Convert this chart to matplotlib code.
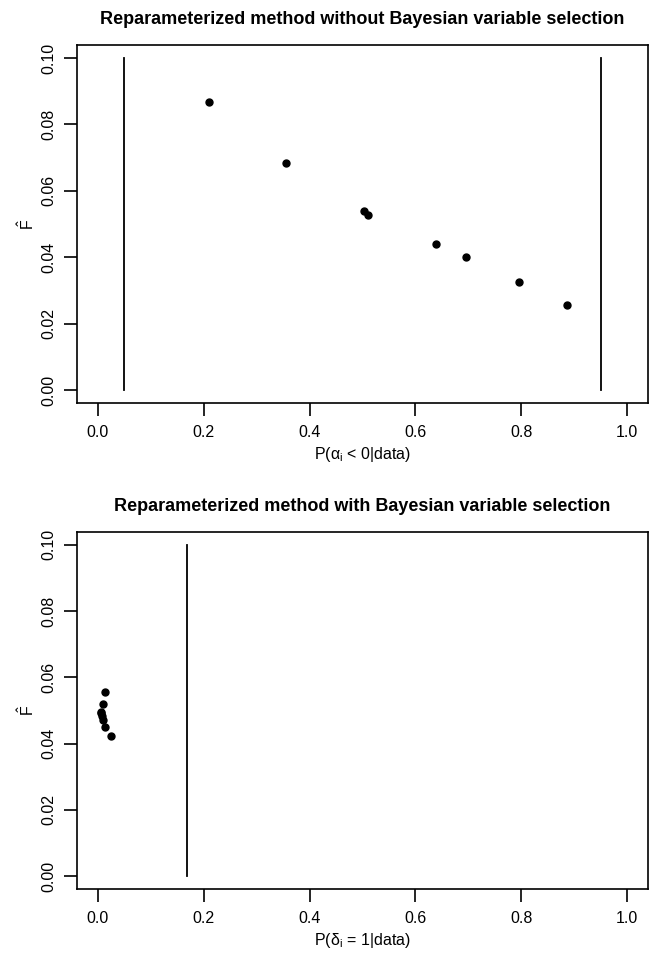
import numpy as np
import matplotlib
matplotlib.use("Agg")
import matplotlib.pyplot as plt

plt.rcParams['font.family'] = ['Liberation Sans', 'DejaVu Sans']
plt.rcParams['mathtext.fontset'] = 'custom'
plt.rcParams['mathtext.rm'] = 'Liberation Sans'
plt.rcParams['mathtext.it'] = 'Liberation Sans'

# top panel: without variable selection
p_alpha = [0.210, 0.356, 0.503, 0.511, 0.638, 0.696, 0.796, 0.887]
f_hat_top = [0.0867, 0.0684, 0.0540, 0.0526, 0.0439, 0.0401, 0.0326, 0.0256]
vlines_top = [0.05, 0.95]

# bottom panel: with variable selection
p_delta = [0.0138, 0.0088, 0.0056, 0.0060, 0.0070, 0.0088, 0.0130, 0.0245]
f_hat_bot = [0.0556, 0.0520, 0.0496, 0.0492, 0.0483, 0.0471, 0.0450, 0.0423]
vlines_bot = [0.169]

xticks = [0.0, 0.2, 0.4, 0.6, 0.8, 1.0]
yticks = [0.00, 0.02, 0.04, 0.06, 0.08, 0.10]

fig = plt.figure(figsize=(6.53, 9.56), dpi=100)
ax1 = fig.add_axes([0.1175, 0.5781, 0.8753, 0.3751])
ax2 = fig.add_axes([0.1175, 0.0698, 0.8753, 0.3741])


def style(ax, x, y, vl, title, xlabel):
    ax.plot(x, y, 'o', color='black', markersize=5)
    for v in vl:
        ax.plot([v, v], [0, 0.1], color='black', lw=1.3)
    ax.set_xlim(-0.04, 1.04)
    ax.set_ylim(-0.004, 0.104)
    ax.set_xticks(xticks)
    ax.set_xticklabels(['%.1f' % t for t in xticks])
    ax.set_yticks(yticks)
    ax.set_yticklabels(['%.2f' % t for t in yticks], rotation=90, va='center')
    ax.tick_params(direction='out', length=9.5, width=1.2, labelsize=11.5)
    ax.tick_params(axis='x', pad=6)
    ax.tick_params(axis='y', pad=5)
    for s in ax.spines.values():
        s.set_linewidth(1.2)
    ax.set_title(title, fontweight='bold', fontsize=13, pad=15)
    ax.set_xlabel(xlabel, fontsize=11.5, labelpad=4)
    ax.set_ylabel(r'$\hat{F}$', fontsize=11.5, labelpad=3)


style(ax1, p_alpha, f_hat_top, vlines_top,
      'Reparameterized method without Bayesian variable selection',
      r'P($\mathregular{\alpha_i}$ < 0|data)')
style(ax2, p_delta, f_hat_bot, vlines_bot,
      'Reparameterized method with Bayesian variable selection',
      r'P($\mathregular{\delta_i}$ = 1|data)')

fig.savefig('out.png', dpi=100)
